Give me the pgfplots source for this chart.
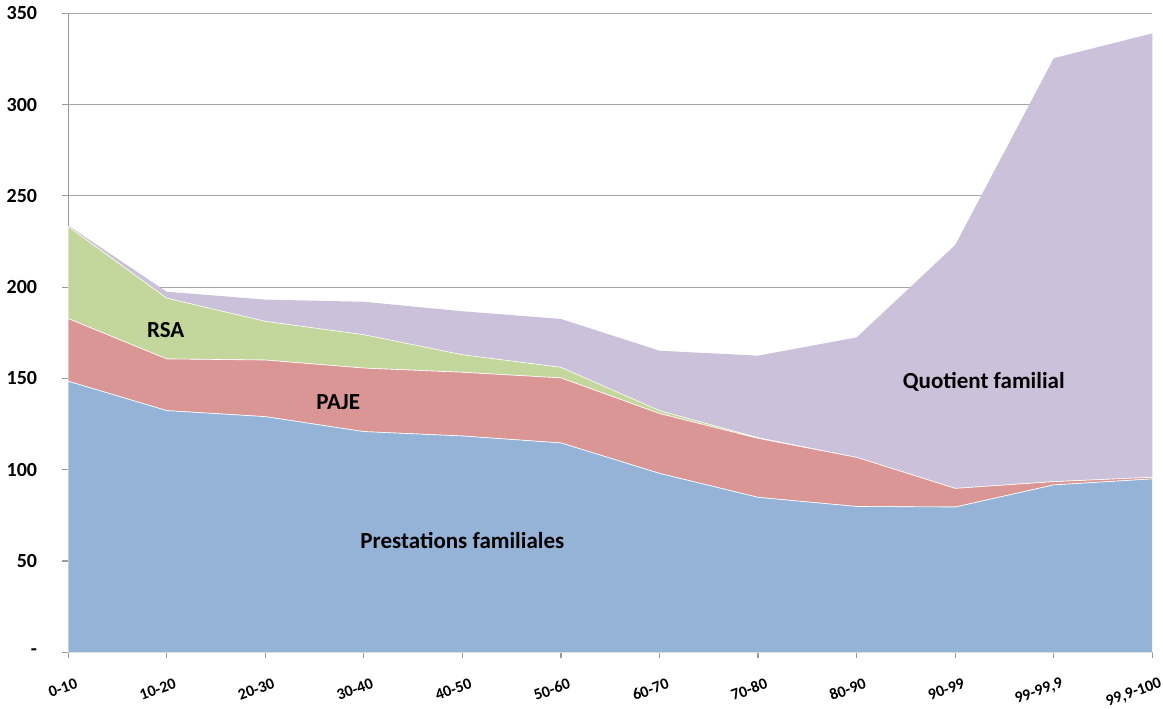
\documentclass[border=0pt]{standalone}
\usepackage{fontspec}
\setmainfont{Carlito}
\usepackage{pgfplots}
\pgfplotsset{compat=1.18}
\definecolor{pfBlue}{HTML}{95B3D7}
\definecolor{pajeRed}{HTML}{D99694}
\definecolor{rsaGreen}{HTML}{C3D69B}
\definecolor{qfPurple}{HTML}{CCC1DA}

\begin{document}
\begin{tikzpicture}
\begin{axis}[
  scale only axis,
  width=542pt, height=319.5pt,
  xmin=0, xmax=11, ymin=0, ymax=350,
  stack plots=y,
  axis x line*=bottom, axis y line*=left,
  axis line style={draw=black!40, line width=0.6pt},
  xtick={0,...,11},
  xticklabels={0-10,10-20,20-30,30-40,40-50,50-60,60-70,70-80,80-90,90-99,{99-99,9},{99,9-100}},
  ytick={0,50,...,350},
  yticklabels={-,50,100,150,200,250,300,350},
  ymajorgrids,
  grid style={black!35, line width=0.6pt},
  tick align=outside,
  major tick length=3pt,
  tick style={black!40, line width=0.6pt},
  /pgf/number format/assume math mode=true,
  yticklabel style={font=\fontsize{10}{11}\selectfont\bfseries, xshift=-9pt},
  xticklabel style={font=\fontsize{8}{9}\selectfont\bfseries, rotate=20, anchor=east, inner sep=0pt, xshift=0pt, yshift=-13pt},
  clip=false,
]
% Prestations familiales
\addplot[fill=pfBlue, draw=white, line width=0.3pt] coordinates {
  (0,148.5) (1,132.4) (2,129.1) (3,120.9) (4,118.5) (5,114.7)
  (6,98.0) (7,84.9) (8,79.9) (9,79.6) (10,91.7) (11,95.0)
} \closedcycle;
% PAJE
\addplot[fill=pajeRed, draw=white, line width=0.3pt] coordinates {
  (0,34.3) (1,28.3) (2,31.0) (3,34.8) (4,34.9) (5,35.6)
  (6,32.8) (7,32.3) (8,26.9) (9,10.2) (10,1.8) (11,0.9)
} \closedcycle;
% RSA
\addplot[fill=rsaGreen, draw=white, line width=0.3pt] coordinates {
  (0,50.4) (1,33.3) (2,21.2) (3,18.3) (4,9.6) (5,5.8)
  (6,1.6) (7,0.4) (8,0) (9,0) (10,0) (11,0)
} \closedcycle;
% Quotient familial
\addplot[fill=qfPurple, draw=none] coordinates {
  (0,0.6) (1,3.5) (2,11.9) (3,18.0) (4,23.8) (5,26.5)
  (6,32.8) (7,44.9) (8,65.7) (9,133.3) (10,231.9) (11,243.1)
} \closedcycle;

\coordinate (lrsa) at (axis cs:0.99,176.4);
\coordinate (lpaje) at (axis cs:2.74,137);
\coordinate (lpf) at (axis cs:4.0,61.3);
\coordinate (lqf) at (axis cs:9.29,148.4);
\end{axis}
\begin{scope}[every node/.style={font=\fontsize{11.5}{13}\selectfont\bfseries}]
\node at (lrsa) {RSA};
\node at (lpaje) {PAJE};
\node at (lpf) {Prestations familiales};
\node at (lqf) {Quotient familial};
\end{scope}
\end{tikzpicture}
\end{document}
